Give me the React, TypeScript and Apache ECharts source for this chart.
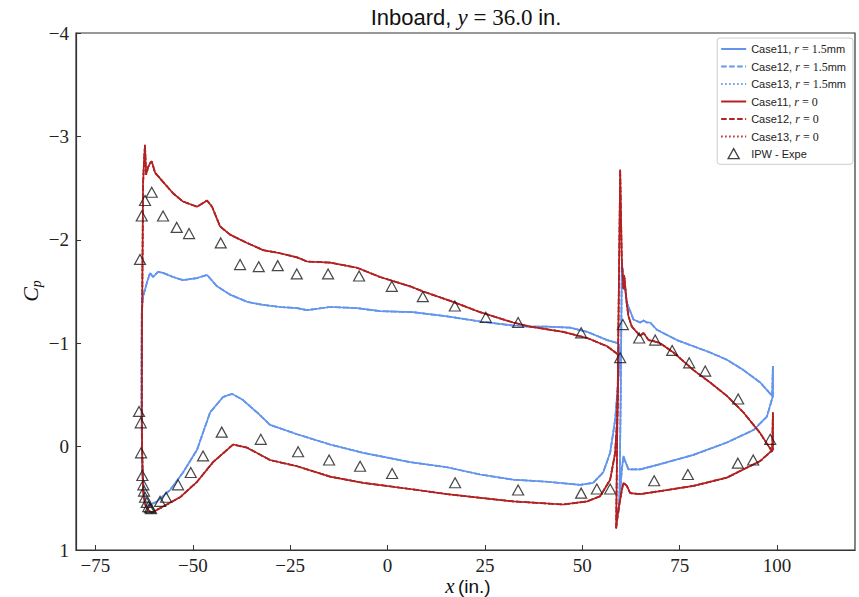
import React, { useEffect, useRef } from "react";
import * as echarts from "echarts";

// ---- data (x in inches, Cp) ----
const blueMain: number[][] = [
  [59.71, -0.94], [59.19, -1.0], [56.37, -1.03], [51.23, -1.11], [46.87, -1.15], [40.96, -1.16], [36.6, -1.16],
  [32.23, -1.17], [23.75, -1.21], [15.28, -1.26], [6.55, -1.3], [-1.93, -1.31], [-7.83, -1.34], [-14.77, -1.35],
  [-20.67, -1.32], [-23.24, -1.34], [-27.61, -1.35], [-31.97, -1.37], [-36.08, -1.4], [-40.45, -1.47],
  [-43.79, -1.55], [-46.35, -1.66], [-48.92, -1.63], [-52.52, -1.61], [-55.09, -1.64], [-57.65, -1.68],
  [-58.94, -1.69], [-60.22, -1.64], [-60.99, -1.68], [-61.84, -1.58], [-62.79, -1.45], [-63.12, -1.3],
  [-63.18, -0.84], [-63.18, -0.45], [-63.1, -0.07], [-62.92, 0.27], [-62.53, 0.46], [-61.84, 0.58],
  [-59.19, 0.53], [-55.86, 0.42], [-52.52, 0.25], [-48.92, 0.03], [-45.58, -0.33], [-42.25, -0.48],
  [-39.93, -0.51], [-37.11, -0.45], [-33.51, -0.33], [-30.17, -0.21], [-23.24, -0.12], [-14.77, -0.02],
  [-6.29, 0.06], [5.78, 0.15], [15.28, 0.2], [23.75, 0.27], [32.23, 0.32], [40.96, 0.34], [49.44, 0.37],
  [52.77, 0.35], [55.34, 0.25], [57.14, 0.06], [58.42, -0.26], [59.19, -0.62], [59.71, -0.94],
];
const blueFlap: number[][] = [
  [59.27, 0.64], [59.53, 0.51], [59.84, -0.45], [60.14, -1.78], [60.56, -1.65], [61.43, -1.39], [63.12, -1.23],
  [64.84, -1.2], [65.69, -1.22], [66.57, -1.2], [67.41, -1.2], [69.13, -1.13], [74.27, -1.03], [78.53, -0.97],
  [82.82, -0.91], [87.11, -0.84], [91.37, -0.74], [95.66, -0.62], [98.74, -0.49], [98.92, -0.78], [98.92, -0.49],
  [97.38, -0.29], [93.94, -0.16], [87.11, -0.04], [78.53, 0.08], [69.98, 0.17], [64.84, 0.22], [61.84, 0.22],
  [60.99, 0.14], [60.56, 0.09], [60.14, 0.22], [59.53, 0.51], [59.27, 0.64],
];
const redMain: number[][] = [
  [59.19, -0.89], [56.37, -0.97], [51.23, -1.05], [45.07, -1.11], [36.6, -1.16], [32.23, -1.2], [23.75, -1.3],
  [16.82, -1.4], [9.12, -1.5], [5.78, -1.55], [-1.93, -1.64], [-7.83, -1.73], [-14.77, -1.78], [-20.67, -1.79],
  [-23.24, -1.83], [-27.61, -1.87], [-31.97, -1.9], [-36.08, -1.97], [-40.45, -2.05], [-43.02, -2.13],
  [-45.07, -2.32], [-46.35, -2.38], [-48.92, -2.32], [-52.52, -2.37], [-55.09, -2.45], [-57.65, -2.56],
  [-59.71, -2.65], [-60.56, -2.76], [-60.99, -2.74], [-61.51, -2.7], [-61.84, -2.65], [-62.02, -2.63],
  [-62.28, -2.92], [-62.53, -2.77], [-62.79, -2.53], [-62.92, -1.81], [-63.05, -1.13], [-63.1, -0.45],
  [-63.05, -0.07], [-62.92, 0.22], [-62.79, 0.42], [-62.28, 0.56], [-61.51, 0.61], [-60.56, 0.64],
  [-57.65, 0.58], [-53.29, 0.49], [-48.92, 0.34], [-44.81, 0.15], [-39.68, -0.02], [-36.08, 0.01],
  [-30.17, 0.13], [-23.24, 0.19], [-14.77, 0.29], [-6.29, 0.35], [5.78, 0.41], [15.28, 0.46], [32.23, 0.53],
  [45.07, 0.56], [51.23, 0.53], [54.57, 0.48], [57.14, 0.32], [58.42, 0.06], [58.94, -0.26], [59.19, -0.65],
  [59.19, -0.89],
];
const redFlap: number[][] = [
  [58.68, 0.79], [59.71, -2.68], [60.14, -1.78], [60.56, -1.52], [60.74, -1.66], [61.43, -1.37], [61.84, -1.26],
  [62.71, -1.16], [64.84, -1.07], [65.69, -1.1], [66.98, -1.03], [68.26, -1.02], [69.98, -1.0], [73.4, -0.91],
  [78.53, -0.74], [82.82, -0.62], [87.11, -0.49], [91.37, -0.33], [95.66, -0.13], [98.74, 0.05], [98.92, -0.33],
  [98.92, 0.03], [95.66, 0.14], [87.11, 0.3], [78.53, 0.38], [69.98, 0.43], [64.84, 0.46], [62.28, 0.45],
  [61.43, 0.38], [60.56, 0.35], [60.14, 0.42], [59.27, 0.61], [58.68, 0.79],
];
const expX: number[] = [
  -63.56, -63.12, -62.28, -60.56, -57.65, -54.14, -50.98, -42.84, -37.88, -33.08, -28.2, -23.32, -15.28, -7.32,
  1.08, 9.04, 17.26, 25.22, 33.51, 49.69, 59.71, 60.4, 64.59, 68.7, 73.06, 77.43, 81.54, 90.01, 98.23,
  93.86, 89.93, 77.09, 68.44, 57.14, 53.72, 49.69, 33.51, 17.33, 1.16, -7.06, -15.02, -22.98, -32.56, -42.58,
  -47.38, -50.54, -53.8, -56.88, -58.42, -60.74, -60.99, -61.43, -61.84, -62.28, -62.53, -62.71, -62.97, -63.3,
  -63.38, -63.82,
];
const expCp: number[] = [
  -1.81, -2.23, -2.38, -2.46, -2.23, -2.12, -2.06, -1.97, -1.76, -1.74, -1.75, -1.67, -1.67, -1.65,
  -1.55, -1.45, -1.36, -1.25, -1.2, -1.1, -0.86, -1.18, -1.05, -1.03, -0.93, -0.81, -0.73, -0.46, -0.07,
  0.13, 0.16, 0.27, 0.33, 0.41, 0.41, 0.45, 0.42, 0.35, 0.26, 0.19, 0.13, 0.05, -0.07, -0.14,
  0.09, 0.25, 0.37, 0.49, 0.53, 0.6, 0.59, 0.58, 0.54, 0.49, 0.43, 0.37, 0.28, 0.06,
  -0.23, -0.34,
];
const xTicks: number[] = [-75, -50, -25, 0, 25, 50, 75, 100];
const caseNames: string[] = ["Case11", "Case12", "Case13"];
const radii: string[] = ["1.5mm", "0"];
const expName = "IPW - Expe";

const BLUE = "#6495ED";
const RED = "#B22222";
const SERIF = "'Liberation Serif', 'DejaVu Serif', serif";
const SANS = "'Liberation Sans', 'DejaVu Sans', sans-serif";
const lineTypes: any[] = ["solid", [5.5, 2.5], [1.5, 2.5]];
const TRI = "path://M5,0 L10,9 L0,9 Z";

const minus = (v: number) => String(v).replace("-", "\u2212");

export default function App() {
  const ref = useRef<HTMLDivElement>(null);
  useEffect(() => {
    if (!ref.current) return;
    const chart = echarts.init(ref.current, undefined, { renderer: "svg" });
    const series: any[] = [];
    const legendData: any[] = [];
    radii.forEach((r, ri) => {
      const color = ri === 0 ? BLUE : RED;
      const parts = ri === 0 ? [blueMain, blueFlap] : [redMain, redFlap];
      caseNames.forEach((c, ci) => {
        const name = `${c}, r = ${r}`;
        legendData.push({ name, itemStyle: { opacity: 0 } });
        parts.forEach((d) => {
          series.push({
            name,
            type: "line",
            data: d,
            showSymbol: false,
            symbol: "none",
            color,
            lineStyle: { color, width: 1.7, type: lineTypes[ci] },
            z: 2 + ri,
          });
        });
      });
    });
    legendData.push({
      name: expName,
      icon: TRI,
      itemStyle: { color: "rgba(255,255,255,0)", borderColor: "#111", borderWidth: 1.3 },
    });
    series.push({
      name: expName,
      type: "scatter",
      data: expX.map((x, i) => [x, expCp[i]]),
      symbol: "triangle",
      symbolSize: [11, 10],
      itemStyle: { color: "rgba(255,255,255,0)", borderColor: "#1a1a1a", borderWidth: 1.2 },
      z: 5,
    });

    chart.setOption({
      animation: false,
      backgroundColor: "#fff",
      grid: {
        left: 76,
        right: 4,
        top: 33,
        bottom: 47,
        show: true,
        borderColor: "#333",
        borderWidth: 1.2,
        backgroundColor: "transparent",
      },
      xAxis: {
        type: "value",
        min: -80,
        max: 120,
        axisLine: { show: true, onZero: false, lineStyle: { color: "#333", width: 1.2 } },
        axisTick: { show: true, inside: true, length: 5, customValues: xTicks, lineStyle: { color: "#333" } },
        axisLabel: {
          customValues: xTicks,
          formatter: (v: number) => minus(v),
          fontFamily: SERIF,
          fontSize: 19,
          color: "#222",
          margin: 6,
        },
        splitLine: { show: false },
      },
      yAxis: {
        type: "value",
        inverse: true,
        min: -4,
        max: 1,
        interval: 1,
        axisLine: { show: true, onZero: false, lineStyle: { color: "#333", width: 1.2 } },
        axisTick: { show: true, inside: true, length: 5, lineStyle: { color: "#333" } },
        axisLabel: {
          formatter: (v: number) => minus(v),
          fontFamily: SERIF,
          fontSize: 19,
          color: "#222",
          margin: 7,
        },
        splitLine: { show: false },
      },
      legend: {
        orient: "vertical",
        right: 6,
        top: 38,
        itemWidth: 25,
        itemHeight: 10,
        itemGap: 5.5,
        symbolKeepAspect: true,
        padding: [5, 7, 5, 3],
        backgroundColor: "#fff",
        borderColor: "#cccccc",
        borderWidth: 1,
        borderRadius: 3,
        data: legendData,
        formatter: (name: string) => {
          if (name === expName) return name;
          const [c, r] = name.split(", r = ");
          const m = r.match(/^([0-9.]+)(.*)$/);
          const num = m ? m[1] : r;
          const unit = m ? m[2] : "";
          return `${c}, {i|r} {m|= ${num}}${unit}`;
        },
        textStyle: {
          fontFamily: SANS,
          fontSize: 11,
          color: "#222",
          rich: {
            i: { fontFamily: SERIF, fontStyle: "italic", fontSize: 12, color: "#222" },
            m: { fontFamily: SERIF, fontSize: 12, color: "#222" },
          },
        },
      },
      graphic: [
        {
          type: "text",
          x: 466,
          y: 17,
          style: {
            text: "{a|Inboard, }{b|y}{c| = 36.0 }{a|in.}",
            align: "center",
            verticalAlign: "middle",
            rich: {
              a: { fontFamily: SANS, fontSize: 22, fill: "#111" },
              b: { fontFamily: SERIF, fontStyle: "italic", fontSize: 23, fill: "#111" },
              c: { fontFamily: SERIF, fontSize: 23, fill: "#111" },
            },
          },
        },
        {
          type: "text",
          x: 468,
          y: 586,
          style: {
            text: "{b|x} {a|(in.)}",
            align: "center",
            verticalAlign: "middle",
            rich: {
              a: { fontFamily: SANS, fontSize: 19, fill: "#111" },
              b: { fontFamily: SERIF, fontStyle: "italic", fontSize: 21, fill: "#111" },
            },
          },
        },
        {
          type: "text",
          x: 30,
          y: 291,
          rotation: Math.PI / 2,
          style: {
            text: "{c|C}{p|p}",
            align: "center",
            verticalAlign: "middle",
            rich: {
              c: { fontFamily: SERIF, fontStyle: "italic", fontSize: 22, fill: "#111" },
              p: { fontFamily: SERIF, fontStyle: "italic", fontSize: 14, fill: "#111", padding: [12, 0, 0, 0] },
            },
          },
        },
      ],
      series,
    });
    return () => chart.dispose();
  }, []);
  return (
    <div
      ref={ref}
      style={{ position: "fixed", left: 0, top: 0, width: 859, height: 597, background: "#fff" }}
    />
  );
}
